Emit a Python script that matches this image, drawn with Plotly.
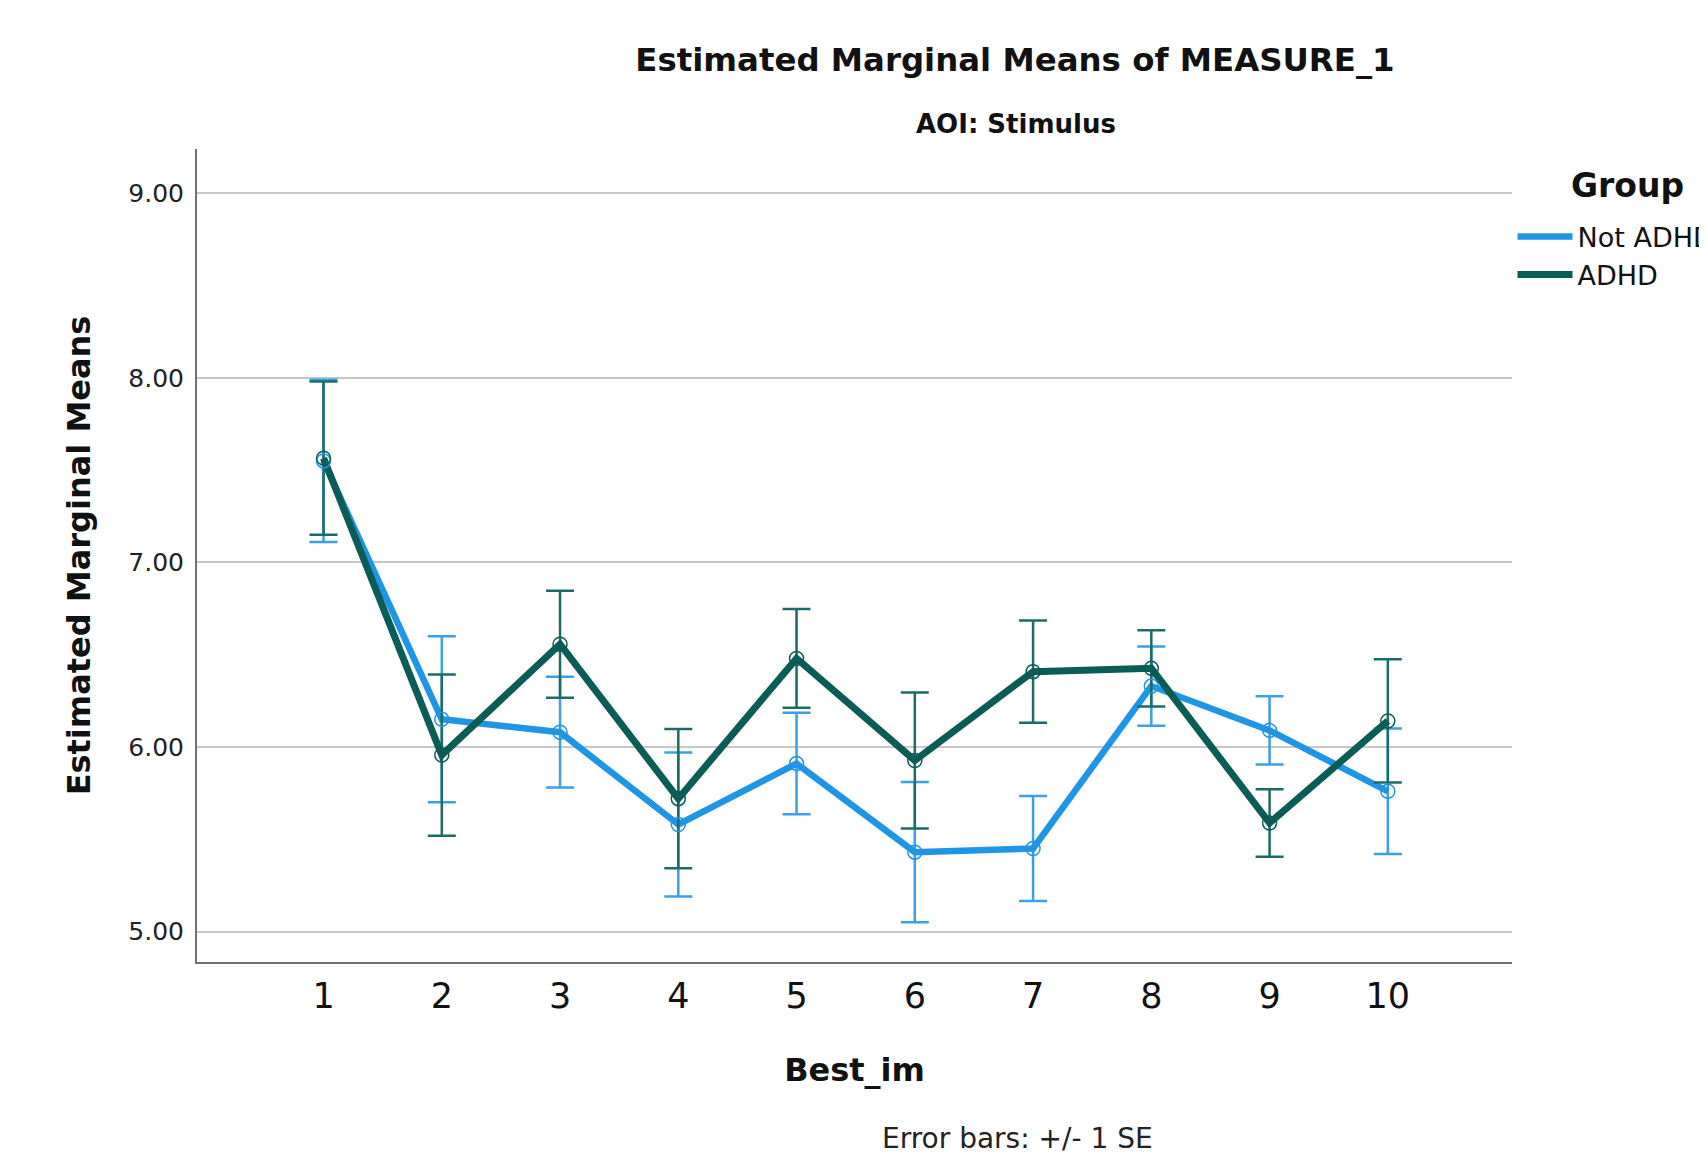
import plotly.graph_objects as go

# ---- data ----
best_im = [1, 2, 3, 4, 5, 6, 7, 8, 9, 10]
tick_labels = ["1", "2", "3", "4", "5", "6", "7", "8", "9", "10"]

not_adhd_mean = [7.55, 6.15, 6.08, 5.58, 5.91, 5.43, 5.45, 6.33, 6.09, 5.76]
not_adhd_se = [0.44, 0.45, 0.30, 0.39, 0.275, 0.38, 0.285, 0.215, 0.185, 0.34]

adhd_mean = [7.565, 5.956, 6.557, 5.72, 6.48, 5.927, 6.408, 6.426, 5.588, 6.141]
adhd_se = [0.415, 0.437, 0.29, 0.377, 0.267, 0.368, 0.277, 0.206, 0.183, 0.334]

y_ticks = [5, 6, 7, 8, 9]
y_tick_labels = ["5.00", "6.00", "7.00", "8.00", "9.00"]

BLUE = "#1f95e6"
BLUE_ERR = "#3aa0e8"
DARK = "#0a5c57"
DARK_ERR = "#1d6b66"
FONT = "DejaVu Sans"

fig = go.Figure()

# lines with error bars (shown in legend)
fig.add_trace(go.Scatter(
    x=best_im, y=not_adhd_mean, mode="lines", name="Not ADHD",
    line=dict(color=BLUE, width=6.5),
    error_y=dict(type="data", array=not_adhd_se, visible=True,
                 color=BLUE_ERR, thickness=2.5, width=14),
))
fig.add_trace(go.Scatter(
    x=best_im, y=adhd_mean, mode="lines", name="ADHD",
    line=dict(color=DARK, width=7),
    error_y=dict(type="data", array=adhd_se, visible=True,
                 color=DARK_ERR, thickness=2.5, width=14),
))
# open circle markers
fig.add_trace(go.Scatter(
    x=best_im, y=not_adhd_mean, mode="markers", showlegend=False,
    marker=dict(symbol="circle-open", size=14, color=BLUE, line=dict(width=1.5)),
    hoverinfo="skip",
))
fig.add_trace(go.Scatter(
    x=best_im, y=adhd_mean, mode="markers", showlegend=False,
    marker=dict(symbol="circle-open", size=14, color=DARK, line=dict(width=1.5)),
    hoverinfo="skip",
))

fig.update_layout(
    width=1707, height=1155,
    margin=dict(l=189, r=203, t=141, b=201, autoexpand=False),
    paper_bgcolor="white", plot_bgcolor="white",
    font=dict(family=FONT, color="#1a1a1a"),
    title=dict(
        text="<b>Estimated Marginal Means of MEASURE_1</b>",
        x=1007 / 1707, xref="container", xanchor="center",
        y=1 - 52 / 1155, yref="container", yanchor="middle",
        font=dict(family=FONT, size=32.4, color="#111111"),
    ),
    xaxis=dict(
        range=[-0.07, 11.05],
        tickvals=best_im, ticktext=tick_labels,
        showgrid=False, zeroline=False,
        showline=True, linecolor="#707070", linewidth=2,
        ticks="", ticklabelstandoff=2,
        tickfont=dict(family=FONT, size=35, color="#111111"),
        title=dict(text="<b>Best_im</b>", standoff=44,
                   font=dict(family=FONT, size=32, color="#111111")),
    ),
    yaxis=dict(
        range=[4.835, 9.24],
        tickvals=y_ticks, ticktext=y_tick_labels,
        showgrid=True, gridcolor="#c8c8c8", gridwidth=2,
        zeroline=False,
        showline=True, linecolor="#707070", linewidth=2,
        ticks="", ticklabelstandoff=6,
        tickfont=dict(family=FONT, size=25, color="#222222"),
        title=dict(text="<b>Estimated Marginal Means</b>", standoff=28,
                   font=dict(family=FONT, size=32, color="#111111")),
    ),
    legend=dict(
        x=1.0004, xanchor="left", y=0.922, yanchor="top",
        bgcolor="rgba(0,0,0,0)",
        font=dict(family=FONT, size=27, color="#111111"),
        itemwidth=55,
    ),
    annotations=[
        dict(text="<b>AOI: Stimulus</b>", xref="paper", yref="paper",
             x=0.6228, y=1.0308, xanchor="center", yanchor="middle",
             showarrow=False, font=dict(family=FONT, size=26, color="#111111")),
        dict(text="<b>Group</b>", xref="paper", yref="paper",
             x=1.0875, y=0.9557, xanchor="center", yanchor="middle",
             showarrow=False, font=dict(family=FONT, size=33, color="#111111")),
        dict(text="Error bars: +/- 1 SE", xref="paper", yref="paper",
             x=0.6236, y=-0.2165, xanchor="center", yanchor="middle",
             showarrow=False, font=dict(family=FONT, size=28, color="#222222")),
    ],
)

fig.write_html("out.html")
